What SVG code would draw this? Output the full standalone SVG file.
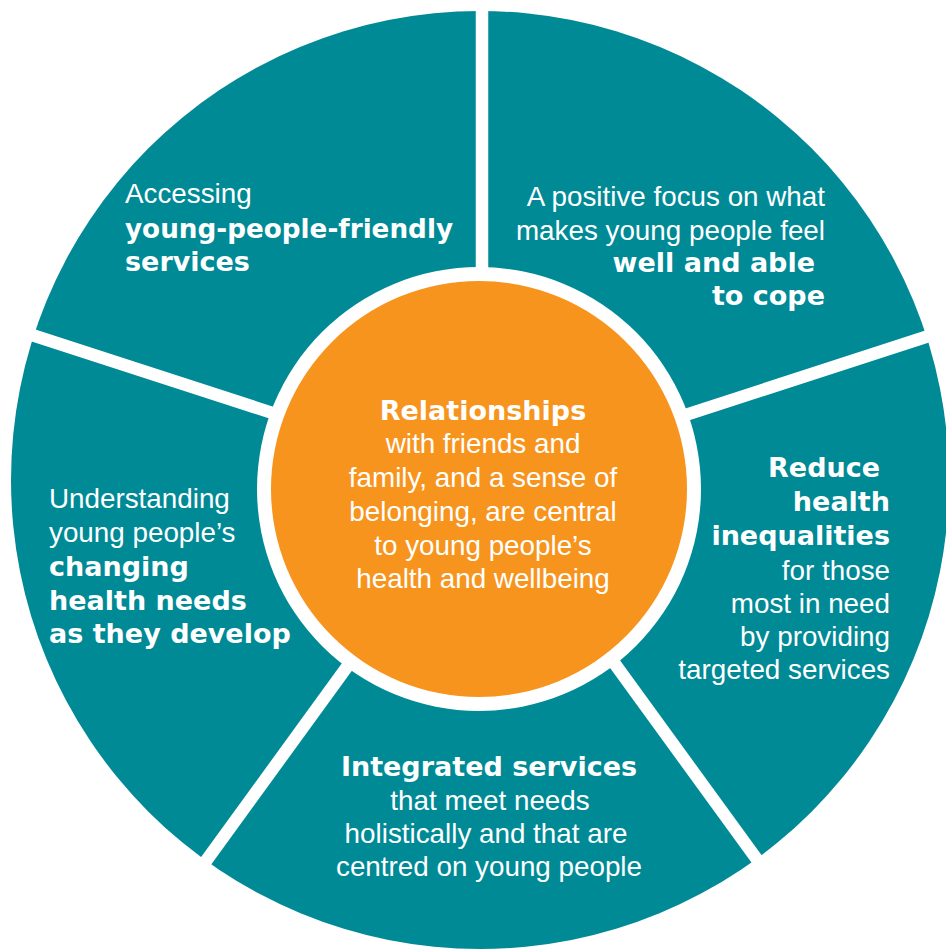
<svg xmlns="http://www.w3.org/2000/svg" width="946" height="950" viewBox="0 0 946 950">
  <style>
    .reg { font-family: "Liberation Sans", Arial, sans-serif; font-size: 27.8px; fill: #ffffff; }
    .bold { font-family: "DejaVu Sans", "Liberation Sans", sans-serif; font-weight: bold; font-size: 27px; fill: #ffffff; }
    .sep { stroke: #ffffff; stroke-width: 12.5; stroke-linecap: butt; }
  </style>
  <rect x="0" y="0" width="946" height="950" fill="#ffffff"/>
  <g id="wheel">
    <circle cx="480" cy="480" r="469" fill="#008A96"/>
  </g>
  <g id="connectors">
    <line class="sep" x1="482" y1="481" x2="482" y2="-10"/>
    <line class="sep" x1="482" y1="481" x2="972" y2="322"/>
    <line class="sep" x1="482" y1="481" x2="782" y2="894"/>
    <line class="sep" x1="482" y1="481" x2="182" y2="894"/>
    <line class="sep" x1="482" y1="481" x2="-8" y2="322"/>
  </g>
  <g id="center">
    <circle cx="479" cy="489" r="222" fill="#ffffff"/>
    <circle cx="479" cy="489" r="208" fill="#F7941E"/>
    <g text-anchor="middle">
      <text class="bold" x="483" y="420">Relationships</text>
      <text class="reg" x="483" y="453">with friends and</text>
      <text class="reg" x="483" y="487">family, and a sense of</text>
      <text class="reg" x="483" y="521">belonging, are central</text>
      <text class="reg" x="483" y="555">to young people’s</text>
      <text class="reg" x="483" y="588">health and wellbeing</text>
    </g>
  </g>
  <g id="access">
    <text class="reg" x="125" y="203">Accessing</text>
    <text class="bold" x="125" y="238" textLength="328" lengthAdjust="spacingAndGlyphs">young-people-friendly</text>
    <text class="bold" x="125" y="271">services</text>
  </g>
  <g id="positive" text-anchor="end">
    <text class="reg" x="825" y="206">A positive focus on what</text>
    <text class="reg" x="825" y="240">makes young people feel</text>
    <text class="bold" x="815" y="272">well and able</text>
    <text class="bold" x="825" y="305">to cope</text>
  </g>
  <g id="understanding">
    <text class="reg" x="49" y="508">Understanding</text>
    <text class="reg" x="49" y="542">young people’s</text>
    <text class="bold" x="49" y="576">changing</text>
    <text class="bold" x="49" y="610">health needs</text>
    <text class="bold" x="49" y="643">as they develop</text>
  </g>
  <g id="reduce" text-anchor="end">
    <text class="bold" x="880" y="477">Reduce</text>
    <text class="bold" x="890" y="511">health</text>
    <text class="bold" x="890" y="545">inequalities</text>
    <text class="reg" x="890" y="580">for those</text>
    <text class="reg" x="890" y="613">most in need</text>
    <text class="reg" x="890" y="646">by providing</text>
    <text class="reg" x="890" y="679">targeted services</text>
  </g>
  <g id="integrated" text-anchor="middle">
    <text class="bold" x="489" y="776">Integrated services</text>
    <text class="reg" x="490" y="810">that meet needs</text>
    <text class="reg" x="486" y="843">holistically and that are</text>
    <text class="reg" x="489" y="876">centred on young people</text>
  </g>
</svg>
